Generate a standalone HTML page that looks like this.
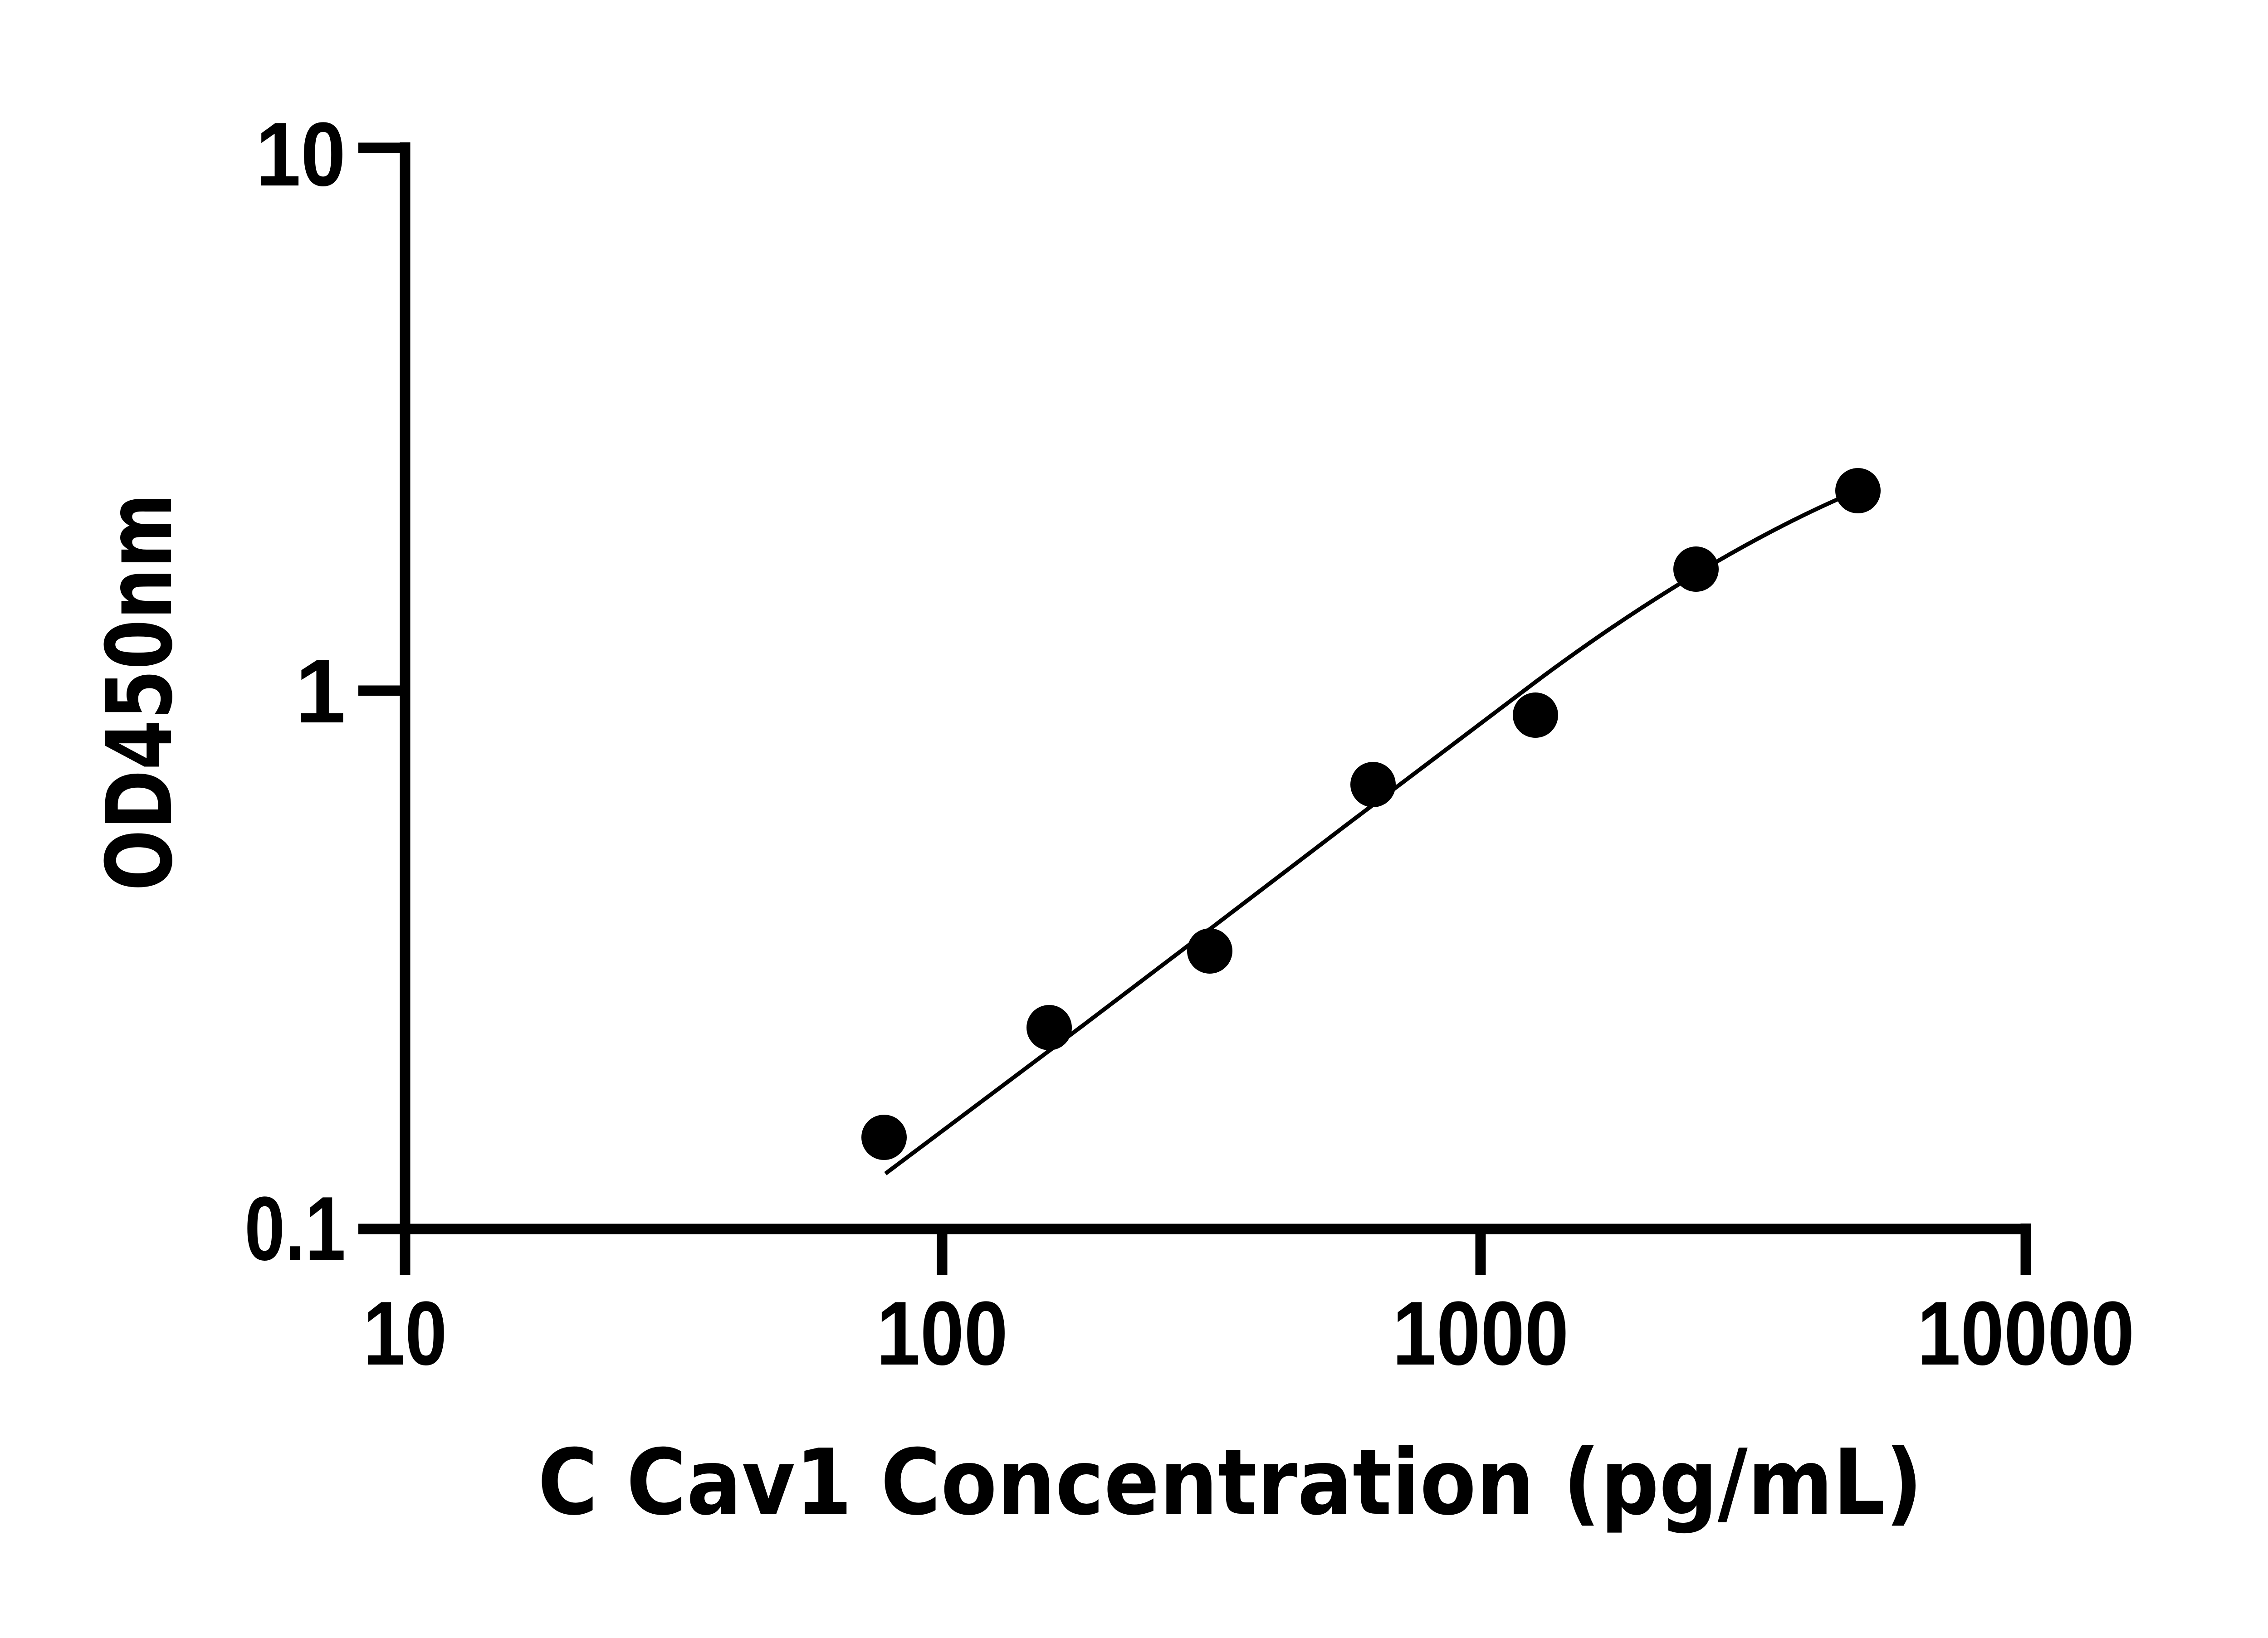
<!DOCTYPE html>
<html><head><meta charset="utf-8"><style>html,body{margin:0;padding:0;background:#fff}svg{display:block}</style></head>
<body>
<svg width="5058" height="3612" viewBox="0 0 5058 3612" xmlns="http://www.w3.org/2000/svg">
<g stroke="#000" stroke-width="23" fill="none" stroke-linecap="butt">
<line x1="893" y1="314" x2="893" y2="2722"/>
<line x1="881" y1="2710" x2="4466" y2="2710"/>
<line x1="790" y1="326" x2="893" y2="326"/>
<line x1="790" y1="1523" x2="893" y2="1523"/>
<line x1="790" y1="2710" x2="893" y2="2710"/>
<line x1="893" y1="2710" x2="893" y2="2812"/>
<line x1="2077" y1="2710" x2="2077" y2="2812"/>
<line x1="3264" y1="2710" x2="3264" y2="2812"/>
<line x1="4466" y1="2698" x2="4466" y2="2812"/>
</g>
<path fill="none" stroke="#000" stroke-width="9" d="M1952,2588 C2190,2410 2430,2230 2667,2049 S3150,1680 3385,1504 S3880,1170 4110,1076"/>
<g fill="#000">
<circle cx="1949" cy="2508" r="50"/>
<circle cx="2313" cy="2266" r="50"/>
<circle cx="2667" cy="2097" r="50"/>
<circle cx="3027" cy="1730" r="50"/>
<circle cx="3385" cy="1577" r="50"/>
<circle cx="3739" cy="1255" r="50"/>
<circle cx="4096" cy="1082" r="50"/>
</g>
<g font-family="'Liberation Sans', sans-serif" font-weight="bold" font-size="200" fill="#000" lengthAdjust="spacingAndGlyphs">
<text x="762" y="409" text-anchor="end" textLength="198" lengthAdjust="spacingAndGlyphs">10</text>
<text x="762" y="1593" text-anchor="end">1</text>
<text x="762" y="2778" text-anchor="end" textLength="223" lengthAdjust="spacingAndGlyphs">0.1</text>
<text x="893" y="3009" text-anchor="middle" textLength="185" lengthAdjust="spacingAndGlyphs">10</text>
<text x="2077" y="3009" text-anchor="middle" textLength="290" lengthAdjust="spacingAndGlyphs">100</text>
<text x="3264" y="3009" text-anchor="middle" textLength="389" lengthAdjust="spacingAndGlyphs">1000</text>
<text x="4466" y="3009" text-anchor="middle" textLength="479" lengthAdjust="spacingAndGlyphs">10000</text>
</g>
<text x="2712" y="3338" text-anchor="middle" textLength="3053" lengthAdjust="spacingAndGlyphs" font-family="'DejaVu Sans', 'Liberation Sans', sans-serif" font-weight="bold" font-size="200">C Cav1 Concentration (pg/mL)</text>
<text transform="translate(377,1526) rotate(-90)" text-anchor="middle" textLength="877" lengthAdjust="spacingAndGlyphs" font-family="'DejaVu Sans', 'Liberation Sans', sans-serif" font-weight="bold" font-size="200">OD450nm</text>
</svg>
</body></html>
